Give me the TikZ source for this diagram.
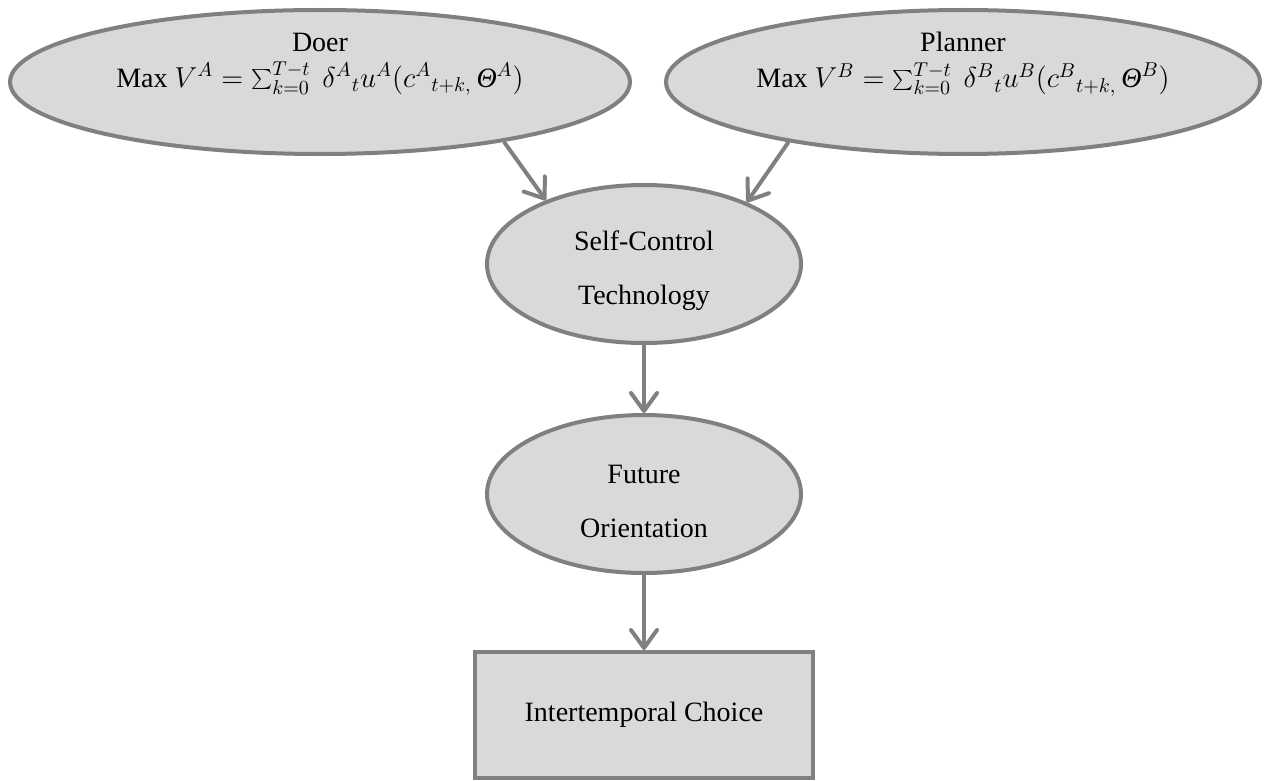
\documentclass[tikz,border=0pt]{standalone}
\usepackage{fontspec}
\setmainfont{Liberation Serif}
\usepackage{tikz}
\usetikzlibrary{positioning,shapes,arrows.meta}
\definecolor{linegray}{RGB}{128,128,128}
\definecolor{fillgray}{RGB}{217,217,217}

\begin{document}
\begin{tikzpicture}[x=0.5pt, y=-0.5pt,
    self/.style={ellipse, draw=linegray, fill=fillgray, line width=2pt, inner sep=0pt, align=center, text depth=22pt, font=\fontsize{14}{16}\selectfont},
    stage/.style={ellipse, draw=linegray, fill=fillgray, line width=2pt, inner sep=0pt, align=center, minimum width=157pt, minimum height=79pt, text height=44pt, font=\fontsize{14}{27}\selectfont},
    outcome/.style={rectangle, draw=linegray, fill=fillgray, line width=2pt, minimum width=169pt, minimum height=63pt, font=\fontsize{14}{16}\selectfont},
    flow/.style={draw=linegray, line width=2pt, -{Straight Barb[length=9pt, width=13pt, round]}}]
    \useasboundingbox (0,0) rectangle (1268,781);
    \node[self, minimum width=310pt, minimum height=72pt] (doer) at (320,82) {Doer\\[2pt]Max $V^{A}=\sum_{k=0}^{T-t}\ \delta^{A}{}_{t}u^{A}(c^{A}{}_{t+k,}\,\textit{Θ}^{A})$};
    \node[self, minimum width=297pt, minimum height=72pt] (planner) at (963,82) {Planner\\[2pt]Max $V^{B}=\sum_{k=0}^{T-t}\ \delta^{B}{}_{t}u^{B}(c^{B}{}_{t+k,}\,\textit{Θ}^{B})$};
    \node[stage] (control) at (644,264) {Self-Control\\Technology};
    \node[stage] (future) at (644,494) {Future\\Orientation};
    \node[outcome] (choice) at (644,715) {Intertemporal Choice};
    \draw[flow] (doer.-18.4) -- (control.147.6);
    \draw[flow] (planner.199.4) -- (control.31.1);
    \draw[flow] (control) -- (future);
    \draw[flow] (future) -- (choice);
  \end{tikzpicture}
\end{document}
